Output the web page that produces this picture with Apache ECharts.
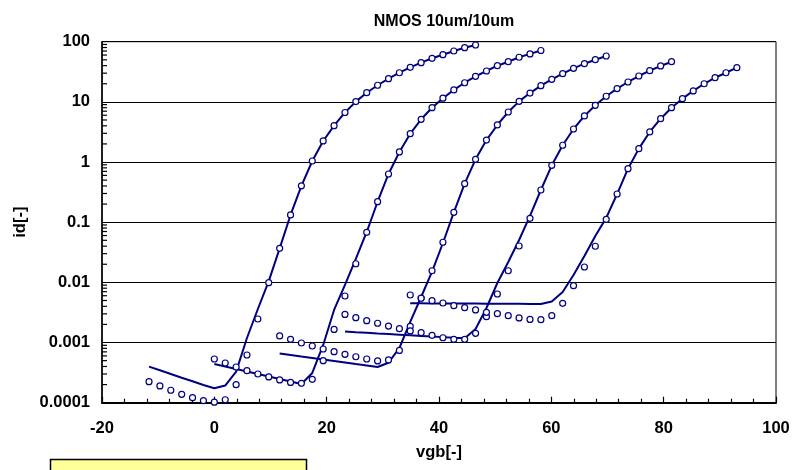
<!DOCTYPE html>
<html><head><meta charset="utf-8">
<script src="https://cdn.jsdelivr.net/npm/echarts@6/dist/echarts.min.js"></script>
<style>html,body{margin:0;padding:0;background:#fff}#c{width:793px;height:470px}</style>
</head><body><div id="c"></div>
<script>
// vgb sweep grid shared by all curves (each curve starts at a different index)
const vgb = [-11.63, -9.69, -7.75, -5.81, -3.88, -1.94, 0, 1.94, 3.88, 5.81, 7.75, 9.69, 11.63, 13.57, 15.50, 17.44, 19.38, 21.32, 23.26, 25.19, 27.13, 29.07, 31.01, 32.95, 34.88, 36.82, 38.76, 40.70, 42.64, 44.57, 46.51, 48.45, 50.39, 52.33, 54.26, 56.20, 58.14, 60.08, 62.02, 63.95, 65.89, 67.83, 69.77, 71.71, 73.65, 75.58, 77.52, 79.46, 81.40, 83.34, 85.27, 87.21, 89.15, 91.09, 93.03];
const startIndex = [0, 6, 12, 18, 24];

// measured id (circles)
const meas1 = [0.000224, 0.000190, 0.000161, 0.000138, 0.000121, 0.000108, 0.000102, 0.000112, 0.000199, 0.000621, 0.00246, 0.00988, 0.0368, 0.132, 0.403, 1.04, 2.24, 4.02, 6.66, 10.1, 14.2, 18.9, 24.3, 30.5, 37.5, 44.8, 53.0, 60.8, 70.0, 79.5, 88.1];
const meas2 = [0.000533, 0.000457, 0.000392, 0.000341, 0.000300, 0.000268, 0.000239, 0.000217, 0.000210, 0.000245, 0.000499, 0.00165, 0.00594, 0.0204, 0.0680, 0.219, 0.633, 1.47, 2.96, 5.13, 8.00, 11.5, 15.8, 20.8, 26.6, 32.6, 39.9, 46.5, 55.1, 62.7, 71.4];
const meas3 = [0.00129, 0.00113, 0.000983, 0.000876, 0.000781, 0.000705, 0.000638, 0.000580, 0.000533, 0.000494, 0.000513, 0.000738, 0.00185, 0.00550, 0.0156, 0.0464, 0.146, 0.437, 1.11, 2.32, 4.13, 6.79, 10.2, 14.0, 18.6, 23.7, 29.4, 36.1, 43.1, 50.2, 57.9];
const meas4 = [0.00293, 0.00259, 0.00231, 0.00209, 0.00188, 0.00170, 0.00156, 0.00146, 0.00132, 0.00120, 0.00113, 0.00113, 0.00142, 0.00269, 0.00641, 0.0156, 0.0402, 0.116, 0.343, 0.883, 1.90, 3.54, 5.83, 8.77, 12.4, 16.6, 21.4, 26.9, 33.0, 39.5, 46.5];
const meas5 = [0.00617, 0.00544, 0.00496, 0.00454, 0.00410, 0.00380, 0.00348, 0.00318, 0.00302, 0.00279, 0.00256, 0.00242, 0.00240, 0.00279, 0.00449, 0.00881, 0.0180, 0.0398, 0.111, 0.294, 0.775, 1.67, 3.16, 5.25, 8.00, 11.3, 15.2, 20.0, 25.2, 30.5, 37.0];

// model id (solid lines)
const model1 = [0.000397, 0.000346, 0.000300, 0.000260, 0.000227, 0.000197, 0.000174, 0.000193, 0.000328, 0.00119, 0.00361, 0.0105, 0.0368, 0.132, 0.403, 1.04, 2.24, 4.02, 6.66, 10.1, 14.2, 18.9, 24.3, 30.5, 37.5, 44.8, 53.0, 60.8, 70.0, 79.5, 88.1];
const model2 = [0.000440, 0.000400, 0.000363, 0.000330, 0.000300, 0.000272, 0.000248, 0.000225, 0.000205, 0.000312, 0.000911, 0.00348, 0.00905, 0.0245, 0.0688, 0.219, 0.633, 1.47, 2.96, 5.13, 8.00, 11.5, 15.8, 20.8, 26.6, 32.6, 39.9, 46.5, 55.1, 62.7, 71.4];
const model3 = [0.000658, 0.000621, 0.000586, 0.000554, 0.000523, 0.000494, 0.000466, 0.000440, 0.000416, 0.000392, 0.000462, 0.000811, 0.00220, 0.00571, 0.0151, 0.0451, 0.146, 0.437, 1.11, 2.32, 4.13, 6.79, 10.2, 14.0, 18.6, 23.7, 29.4, 36.1, 43.1, 50.2, 57.9];
const model4 = [0.00152, 0.00148, 0.00145, 0.00141, 0.00138, 0.00135, 0.00132, 0.00129, 0.00126, 0.00123, 0.00120, 0.00118, 0.00168, 0.00375, 0.00976, 0.0218, 0.0506, 0.127, 0.343, 0.883, 1.90, 3.54, 5.83, 8.77, 12.4, 16.6, 21.4, 26.9, 33.0, 39.5, 46.5];
const model5 = [0.00449, 0.00448, 0.00447, 0.00446, 0.00446, 0.00445, 0.00444, 0.00443, 0.00442, 0.00441, 0.00440, 0.00438, 0.00437, 0.00481, 0.00692, 0.0133, 0.0274, 0.0590, 0.118, 0.294, 0.775, 1.67, 3.16, 5.25, 8.00, 11.3, 15.2, 20.0, 25.2, 30.5, 37.0];

const xTickLabels = ['-20', '0', '20', '40', '60', '80', '100'];
const yTickLabels = ['0.0001', '0.001', '0.01', '0.1', '1', '10', '100'];
// log minor tick values on the y axis
const yMinorTicks = [
  0.0002, 0.0003, 0.0004, 0.0005, 0.0006, 0.0007, 0.0008, 0.0009,
  0.002, 0.003, 0.004, 0.005, 0.006, 0.007, 0.008, 0.009,
  0.02, 0.03, 0.04, 0.05, 0.06, 0.07, 0.08, 0.09,
  0.2, 0.3, 0.4, 0.5, 0.6, 0.7, 0.8, 0.9,
  2, 3, 4, 5, 6, 7, 8, 9,
  20, 30, 40, 50, 60, 70, 80, 90
];

const NAVY = '#000080';
const FONT = '"Liberation Sans", Arial, sans-serif';
const labelStyle = { fontFamily: FONT, fontWeight: 'bold', fontSize: 16.5, color: '#000' };

const measured = [meas1, meas2, meas3, meas4, meas5];
const models = [model1, model2, model3, model4, model5];
const series = [];
models.forEach((arr, k) => {
  series.push({
    type: 'line', name: 'model' + (k + 1), silent: true, z: 2,
    data: arr.map((v, j) => [vgb[startIndex[k] + j], v]),
    symbol: 'none', showSymbol: false,
    lineStyle: { color: NAVY, width: 2 }
  });
});
measured.forEach((arr, k) => {
  series.push({
    type: 'scatter', name: 'meas' + (k + 1), z: 3,
    data: arr.map((v, j) => [vgb[startIndex[k] + j], v]),
    symbol: 'circle', symbolSize: 6,
    itemStyle: { color: '#ffffff', borderColor: NAVY, borderWidth: 1.2, opacity: 1 }
  });
});
// minor ticks drawn at the axis minimum through the log scale
series.push({
  type: 'custom', name: 'yMinor', silent: true, z: 4, clip: false,
  data: yMinorTicks.map(v => [-20, v]),
  renderItem: function (params, api) {
    const p = api.coord([api.value(0), api.value(1)]);
    return {
      type: 'line',
      shape: { x1: p[0], y1: p[1], x2: p[0] + 5, y2: p[1] },
      style: { stroke: '#000', lineWidth: 1.2 }
    };
  }
});

const chart = echarts.init(document.getElementById('c'), null, { renderer: 'canvas' });
chart.setOption({
  animation: false,
  backgroundColor: '#ffffff',
  title: {
    text: 'NMOS 10um/10um', left: 439, top: 9, textAlign: 'center',
    textStyle: { fontFamily: FONT, fontWeight: 'bold', fontSize: 16, color: '#000' }
  },
  grid: { left: 102, right: 17, top: 41.7, bottom: 67.3, show: true, borderColor: '#000', borderWidth: 1, backgroundColor: 'transparent' },
  xAxis: {
    type: 'value', min: -20, max: 100, interval: 20,
    name: 'vgb[-]', nameLocation: 'middle', nameGap: 41, nameTextStyle: labelStyle,
    axisLine: { show: true, onZero: false, lineStyle: { color: '#000', width: 2 } },
    axisTick: { show: true, inside: true, length: 6, lineStyle: { color: '#000', width: 1.2 } },
    minorTick: { show: true, splitNumber: 5, length: 4, lineStyle: { color: '#000', width: 1.2 } },
    splitLine: { show: false },
    axisLabel: Object.assign({ margin: 17, formatter: v => xTickLabels[Math.round((v + 20) / 20)] }, labelStyle)
  },
  yAxis: {
    type: 'log', logBase: 10, min: 0.0001, max: 100,
    name: 'id[-]', nameLocation: 'middle', nameGap: 70, nameTextStyle: labelStyle,
    axisLine: { show: true, onZero: false, lineStyle: { color: '#000', width: 1.5 } },
    axisTick: { show: true, inside: true, length: 5, lineStyle: { color: '#000', width: 1 } },
    minorTick: { show: false },
    splitLine: { show: true, lineStyle: { color: '#000', width: 1 } },
    axisLabel: Object.assign({ margin: 12, formatter: v => yTickLabels[Math.round(Math.log10(v)) + 4] }, labelStyle)
  },
  graphic: [{
    type: 'rect', z: 10,
    shape: { x: 50.5, y: 459.5, width: 256, height: 30 },
    style: { fill: '#FFFF99', stroke: '#000', lineWidth: 1.5 }
  }],
  series: series
});
</script>
</body></html>
